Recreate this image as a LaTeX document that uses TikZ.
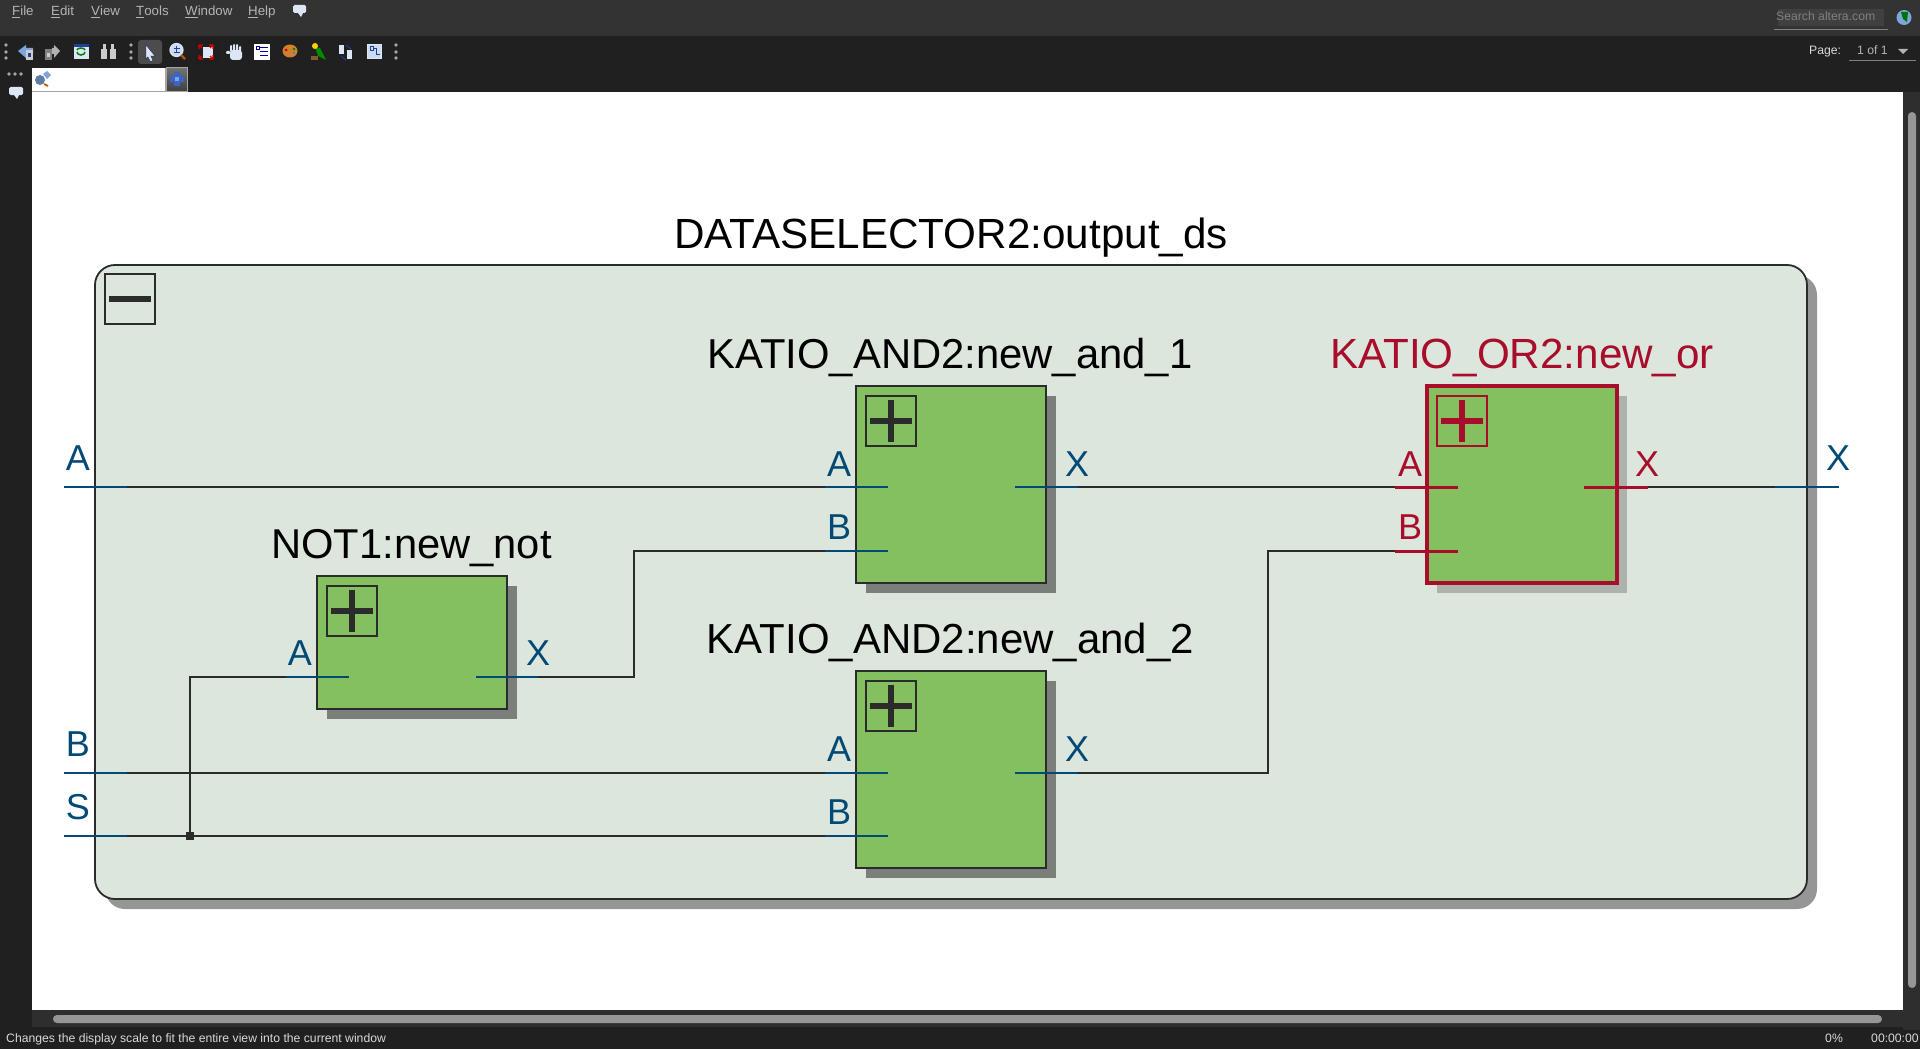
\documentclass[tikz,border=0pt]{standalone}
\usepackage{fontspec}
\setmainfont{Liberation Sans}
\usetikzlibrary{positioning,shadows}
\definecolor{chrome}{HTML}{333333}
\definecolor{barbg}{HTML}{202020}
\definecolor{scrollbg}{HTML}{2E2E2E}
\definecolor{thumbgray}{HTML}{969696}
\definecolor{panelbg}{HTML}{DDE6DD}
\definecolor{blockbg}{HTML}{85C060}
\definecolor{wirecol}{HTML}{2B2B2B}
\definecolor{portblue}{HTML}{004A75}
\definecolor{selred}{HTML}{A80D2B}
\definecolor{menutext}{HTML}{B4B4B4}
\definecolor{iconpale}{HTML}{DCE6F5}
\definecolor{iconblue}{HTML}{7FA6DC}
\definecolor{icondark}{HTML}{1F3F9A}
\definecolor{crossblue}{HTML}{3C64C8}
\tikzset{
    panel/.style={draw=wirecol,fill=panelbg,line width=1.8pt,rounded corners=20pt,anchor=north west,inner sep=0pt,outer sep=0pt,minimum width=1712pt,minimum height=634pt,
        drop shadow={shadow xshift=10pt,shadow yshift=-10pt,fill=thumbgray,opacity=1}},
    block/.style={draw=wirecol,fill=blockbg,line width=1.8pt,anchor=north west,inner sep=0pt,outer sep=0pt,minimum width=190pt,
        drop shadow={shadow xshift=10pt,shadow yshift=-10pt,fill=#1,opacity=1}},
    plusbox/.style={draw=#1,line width=1.6pt,anchor=north west,inner sep=0pt,outer sep=0pt,minimum size=50pt,
        path picture={\draw[#1,line width=6pt] ([xshift=-21pt]path picture bounding box.center) -- ([xshift=21pt]path picture bounding box.center);
            \draw[#1,line width=6pt] ([yshift=-21pt]path picture bounding box.center) -- ([yshift=21pt]path picture bounding box.center);}},
    wire/.style={draw=wirecol,line width=1.7pt},
    port/.style={draw=portblue,line width=1.7pt},
    redport/.style={draw=selred,line width=3pt},
    junction/.style={fill=wirecol,inner sep=0pt,minimum size=8pt},
    title/.style={font=\fontsize{42.2}{50}\selectfont,anchor=base},
    portname/.style={font=\fontsize{36}{43}\selectfont,anchor=base,text=portblue},
    redname/.style={font=\fontsize{36}{43}\selectfont,anchor=base,text=selred},
    menu/.style={font=\fontsize{13.3}{16}\selectfont,text=menutext,anchor=base west,inner sep=0pt},
    status/.style={font=\fontsize{12.2}{15}\selectfont,text=white!85!black,anchor=base west,inner sep=0pt},
    griphole/.style={fill=gray!70,radius=1.9pt}
}
\begin{document}
\begin{tikzpicture}[x=1pt,y=-1pt]
    \useasboundingbox (0,0) rectangle (1920,1049);
    \fill[barbg] (0,0) rectangle (1920,1049);
    \fill[chrome] (0,0) rectangle (1920,36);
    \fill[white] (32,92) rectangle (1903,1010);
    \fill[scrollbg] (1903,92) rectangle (1920,1030);
    \fill[scrollbg] (32,1010) rectangle (1903,1027);
    \fill[thumbgray,rounded corners=4pt] (1908,112) rectangle (1916,988);
    \fill[thumbgray,rounded corners=4pt] (53,1015) rectangle (1882,1023);

    \node[menu] (mfile) at (12,16) {\underline{F}ile};
    \node[menu] (medit) at (51,16) {\underline{E}dit};
    \node[menu] (mview) at (91,16) {\underline{V}iew};
    \node[menu] (mtools) at (136,16) {\underline{T}ools};
    \node[menu] (mwindow) at (185,16) {\underline{W}indow};
    \node[menu] (mhelp) at (248,16) {\underline{H}elp};
    \fill[iconpale,rounded corners=1.5pt] (293,5) rectangle (306,13);
    \fill[iconpale] (298,13) -- (303,13) -- (301,17) -- cycle;
    \draw[gray,line width=1pt] (1774,30) -- (1888,30);
    \fill[white!25!black] (1778,9) rectangle (1884,26);
    \node[status,text=gray] (searchbox) at (1776,21) {Search altera.com};
    \fill[iconblue] (1904,17.5) circle (7.5pt);
    \fill[green!45!black] (1901,12) -- (1908,12) -- (1907,22) -- (1903,19) -- cycle;

    \foreach \gx in {6,131,396}{
        \fill[griphole] (\gx,45) circle;
        \fill[griphole] (\gx,52) circle;
        \fill[griphole] (\gx,58) circle;
    }
    \fill[griphole] (9,74) circle;
    \fill[griphole] (15,74) circle;
    \fill[griphole] (21,74) circle;
    \fill[iconpale,rounded corners=1.5pt] (9,87) rectangle (23,95);
    \fill[iconpale] (14,95) -- (19,95) -- (17,99) -- cycle;

    \fill[iconblue] (18,51) -- (26,45) -- (26,48) -- (33,48) -- (33,54) -- (26,54) -- (26,58) -- cycle;
    \fill[white!80!black] (26,50) rectangle (33,60);
    \fill[icondark] (28,53) rectangle (31,57);
    \fill[gray] (45,49) rectangle (52,60);
    \fill[white!80!black] (47,53) rectangle (50,57);
    \fill[gray!60] (52,48) -- (54,48) -- (54,45) -- (60,51) -- (54,58) -- (54,54) -- (52,54) -- cycle;
    \fill[iconpale] (73.5,44) rectangle (88.5,59.5);
    \fill[icondark] (73.5,44) rectangle (88.5,47);
    \draw[green!50!black,line width=1.5pt] (77,52) arc (180:360:4pt and 3pt);
    \draw[green!50!black,line width=1.5pt] (77,50) arc (180:0:4pt and 2pt);
    \fill[white!80!black] (101,49) rectangle (107,59);
    \fill[white!80!black] (110,49) rectangle (116,59);
    \fill[white!80!black] (103,44) rectangle (106,50);
    \fill[white!80!black] (111,44) rectangle (114,50);
    \fill[white!30!black,rounded corners=3pt] (138,40) rectangle (162,64);
    \draw[icondark!60!black,fill=iconpale] (146,45) -- (155,56) -- (151,56) -- (153,61) -- (150,61) -- (148,57) -- (146,59) -- cycle;
    \draw[iconpale,line width=1.2pt,fill=iconblue!40!white] (176.5,50) circle (6.5pt);
    \draw[icondark,line width=1pt] (173.5,49) -- (179.5,49) (176.5,46) -- (176.5,52) (173.5,53) -- (179.5,53);
    \draw[orange!70!black,line width=2.2pt] (181,55) -- (185,59);
    \fill[white!12!black,rounded corners=3pt] (194,40) rectangle (218,64);
    \fill[iconpale] (203,47) rectangle (213,58);
    \draw[red!85!black,line width=1.3pt] (199,45) -- (202,48) (199,45) -- (203,45) (199,45) -- (199,49)
        (213,45) -- (210,48) (213,45) -- (209,45) (213,45) -- (213,49)
        (199,59) -- (202,56) (199,59) -- (203,59) (199,59) -- (199,55)
        (213,59) -- (210,56) (213,59) -- (209,59) (213,59) -- (213,55);
    \fill[iconpale,rounded corners=3pt] (230,50) rectangle (242,60);
    \fill[iconpale,rounded corners=1pt] (230,45) rectangle (232,52) (233,44) rectangle (235,52) (236,44) rectangle (238,52) (239,46) rectangle (241,52) (226,51) rectangle (230,54);
    \fill[white] (254,44) rectangle (270,60);
    \draw[blue!60!black,line width=1pt] (256,47) rectangle (259,50) (260,48) -- (268,48) (260,52) -- (268,52) (260,56) -- (268,56);
    \fill[brown!75!orange] (290,51) ellipse (7.5pt and 6.5pt);
    \fill[red!80!black] (286,50) circle (1.5pt);
    \fill[orange] (290,47) circle (1.4pt);
    \fill[green!50!black] (294,49) circle (1.4pt);
    \fill[icondark!70!white] (294,53) circle (1.4pt);
    \fill[green!55!black] (315,47) -- (320,48) -- (326,60) -- (318,56) -- cycle;
    \fill[yellow!70!orange] (315,46) circle (3pt);
    \fill[brown!70!black] (311,56) rectangle (318,60);
    \fill[iconpale] (339,45) rectangle (344,54);
    \fill[iconpale] (347,50) rectangle (352,59);
    \draw[icondark,line width=1pt] (346,45) -- (351,49) (341,56) -- (346,60);
    \draw[iconpale,line width=1pt,fill=iconblue!40!white] (367.5,44.5) rectangle (381,59);
    \draw[icondark,line width=1pt] (370,47) rectangle (373,51) (373,49) -- (376,49) -- (376,55) -- (380,55);

    \node[status] (pagelabel) at (1809,55) {Page:};
    \node[status,text=menutext] (pagevalue) at (1857,55) {1 of 1};
    \draw[gray,line width=1pt] (1849,61) -- (1916,61);
    \fill[menutext] (1898,49) -- (1908,49) -- (1903,54) -- cycle;
    \fill[white] (32,68) rectangle (165,91);
    \draw[gray!70,line width=1pt] (32,91) -- (165,91) -- (165,68);
    \fill[iconblue!75!black] (40,80) circle (5pt);
    \fill[iconblue] (43,74) -- (47,71) -- (51,75) -- (47,79) -- cycle;
    \draw[orange!70!black,line width=1.6pt] (44,84) -- (48,86);
    \shade[top color=gray!90!black,bottom color=black!75] (166,68) rectangle (187,91);
    \draw[gray!70,line width=1pt] (166,68) rectangle (187,91);
    \fill[crossblue] (174,72) rectangle (180,86);
    \fill[crossblue] (170,76) rectangle (184,82);
    \fill[iconblue] (175,77) rectangle (179,81);
    \node[status] (statustext) at (6,1042) {Changes the display scale to fit the entire view into the current window};
    \node[status] (percent) at (1825,1042) {0\%};
    \node[status] (clock) at (1871,1042) {00:00:00};

    \node[title] (outputdsname) at (951,248) {DATASELECTOR2:output\_ds};
    \node[panel] (outputds) at (95,265) {};
    \node[draw=wirecol,line width=1.7pt,anchor=north west,inner sep=0pt,outer sep=0pt,minimum size=50pt] (outputdsminus) at (105,274) {};
    \draw[wirecol,line width=6pt] ([xshift=-21pt]outputdsminus.center) -- ([xshift=21pt]outputdsminus.center);

    \node[block=black!45!panelbg,minimum height=133pt] (newnot) at (317,576) {};
    \node[block=black!45!panelbg,minimum height=197pt] (newandone) at (856,386) {};
    \node[block=black!45!panelbg,minimum height=197pt] (newandtwo) at (856,671) {};
    \node[block=black!22!panelbg,minimum height=197pt,draw=selred,line width=3.4pt] (newor) at (1427,386) {};
    \node[plusbox=wirecol] (newnotplus) at (327,586) {};
    \node[plusbox=wirecol] (newandoneplus) at (866,396) {};
    \node[plusbox=wirecol] (newandtwoplus) at (866,681) {};
    \node[plusbox=selred] (neworplus) at (1437,396) {};

    \node[title,font=\fontsize{41.7}{50}\selectfont] (newnotname) at (411.5,558.5) {NOT1:new\_not};
    \node[title,font=\fontsize{41.8}{50}\selectfont] (newandonename) at (950,368.5) {KATIO\_AND2:new\_and\_1};
    \node[title,font=\fontsize{42}{50}\selectfont] (newandtwoname) at (950.5,653.5) {KATIO\_AND2:new\_and\_2};
    \node[title,text=selred] (neworname) at (1522,368.5) {KATIO\_OR2:new\_or};

    \coordinate (inA) at (127,487);
    \coordinate (inB) at (127,773);
    \coordinate (inS) at (127,836);
    \coordinate (outX) at (1775,487);
    \coordinate (notA) at (286,677);
    \coordinate (notX) at (538,677);
    \coordinate (andoneA) at (825,487);
    \coordinate (andoneB) at (825,551);
    \coordinate (andoneX) at (1078,487);
    \coordinate (andtwoA) at (825,773);
    \coordinate (andtwoB) at (825,836);
    \coordinate (andtwoX) at (1078,773);
    \coordinate (orA) at (1395,487);
    \coordinate (orB) at (1395,551);
    \coordinate (orX) at (1648,487);
    \node[junction] (sjunction) at (190,836) {};

    \draw[wire] (inA) -- (andoneA);
    \draw[wire] (inB) -- (andtwoA);
    \draw[wire] (inS) -- (sjunction) -- (andtwoB);
    \draw[wire] (sjunction) |- (notA);
    \draw[wire] (notX) -- (634,677) -- (634,551) -- (andoneB);
    \draw[wire] (andoneX) -- (orA);
    \draw[wire] (andtwoX) -- (1268,773) -- (1268,551) -- (orB);
    \draw[wire] (orX) -- (outX);

    \draw[port] (inA) -- ++(-63,0);
    \draw[port] (inB) -- ++(-63,0);
    \draw[port] (inS) -- ++(-63,0);
    \draw[port] (outX) -- ++(64,0);
    \draw[port] (notA) -- ++(63,0);
    \draw[port] (notX) -- ++(-62,0);
    \draw[port] (andoneA) -- ++(63,0);
    \draw[port] (andoneB) -- ++(63,0);
    \draw[port] (andoneX) -- ++(-63,0);
    \draw[port] (andtwoA) -- ++(63,0);
    \draw[port] (andtwoB) -- ++(63,0);
    \draw[port] (andtwoX) -- ++(-63,0);
    \draw[redport] (orA) -- ++(63,0);
    \draw[redport] (orB) -- ++(63,0);
    \draw[redport] (orX) -- ++(-64,0);

    \node[portname] (inAname) at (78,470) {A};
    \node[portname] (inBname) at (78,756.5) {B};
    \node[portname] (inSname) at (78,819.5) {S};
    \node[portname] (outXname) at (1838,470) {X};
    \node[portname] (notAname) at (300,665) {A};
    \node[portname] (notXname) at (538,665) {X};
    \node[portname] (andoneAname) at (839,476) {A};
    \node[portname] (andoneBname) at (839,539) {B};
    \node[portname] (andoneXname) at (1077,476) {X};
    \node[portname] (andtwoAname) at (839,761) {A};
    \node[portname] (andtwoBname) at (839,824) {B};
    \node[portname] (andtwoXname) at (1077,761) {X};
    \node[redname] (orAname) at (1410,476) {A};
    \node[redname] (orBname) at (1410,539) {B};
    \node[redname] (orXname) at (1647,476) {X};
\end{tikzpicture}
\end{document}
